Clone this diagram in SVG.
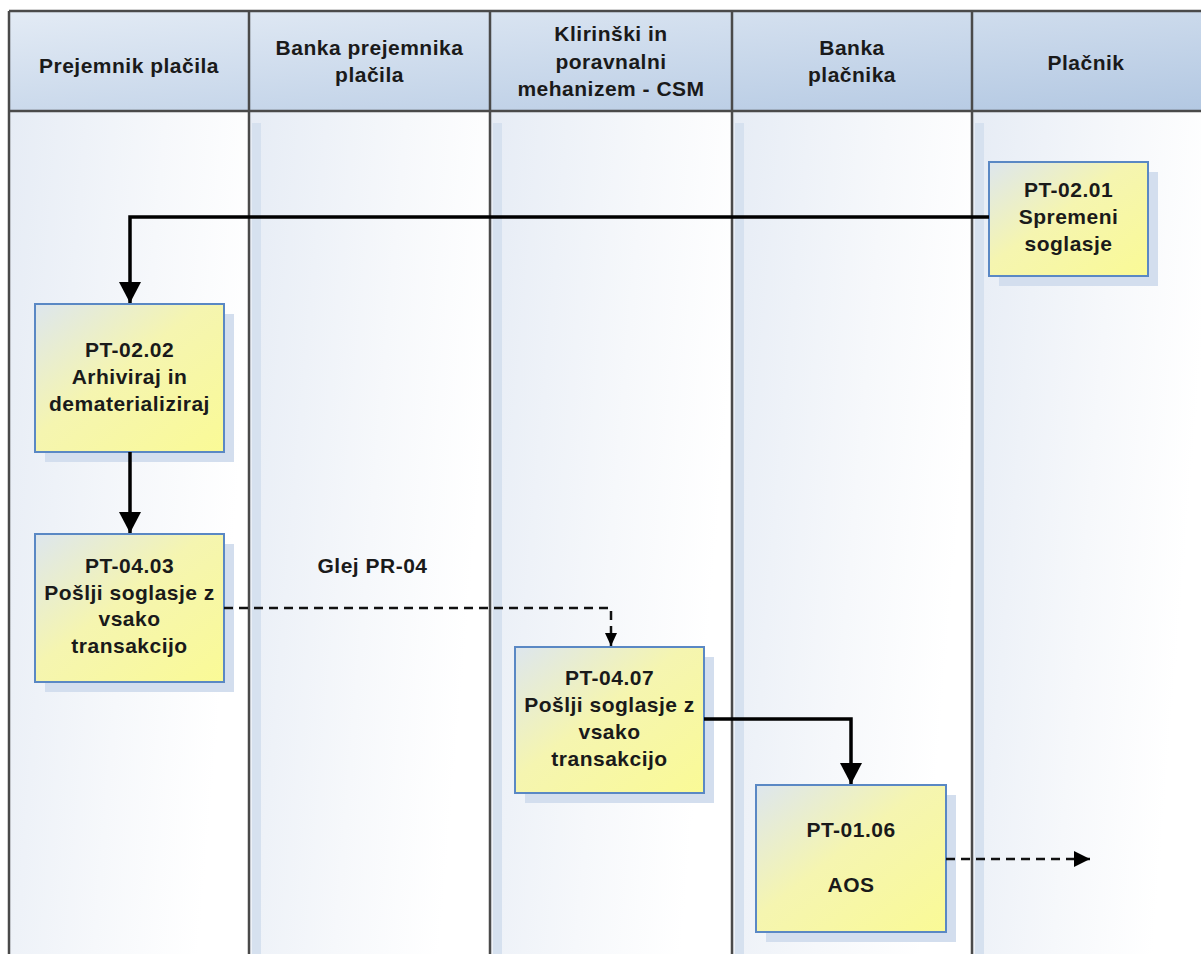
<svg xmlns="http://www.w3.org/2000/svg" width="1201" height="954" viewBox="0 0 1201 954">
<defs>
<linearGradient id="hdr" x1="0" y1="0" x2="1" y2="1">
<stop offset="0" stop-color="#e3ebf5"/>
<stop offset="1" stop-color="#b3c8e2"/>
</linearGradient>
<linearGradient id="lane" x1="0" y1="0" x2="1" y2="0.3">
<stop offset="0" stop-color="#e6ecf5"/>
<stop offset="0.6" stop-color="#f6f8fb"/>
<stop offset="1" stop-color="#ffffff"/>
</linearGradient>
<linearGradient id="box" x1="0" y1="0" x2="1" y2="1">
<stop offset="0" stop-color="#dde6ee"/>
<stop offset="0.45" stop-color="#f5f5b0"/>
<stop offset="1" stop-color="#fafa96"/>
</linearGradient>
<marker id="ah" markerUnits="userSpaceOnUse" markerWidth="24" markerHeight="24" viewBox="0 0 24 24" refX="21" refY="12" orient="auto">
<path d="M0,1 L21,12 L0,23 Z" fill="#000"/>
</marker>
<marker id="ahs" markerUnits="userSpaceOnUse" markerWidth="18" markerHeight="18" viewBox="0 0 18 18" refX="16" refY="9" orient="auto">
<path d="M0,1 L16,9 L0,17 Z" fill="#000"/>
</marker>
<marker id="ahm" markerUnits="userSpaceOnUse" markerWidth="14" markerHeight="14" viewBox="0 0 14 14" refX="13" refY="7" orient="auto">
<path d="M0,1 L13,7 L0,13 Z" fill="#000"/>
</marker>
</defs>
<style>
text{font-family:"Liberation Sans",Arial,sans-serif;font-weight:bold;font-size:21px;fill:#1a1a1a;text-anchor:middle;letter-spacing:0.5px}
.hdr{fill:url(#hdr)}
.lane{fill:url(#lane)}
.strip{fill:#d6e1ef}
.div{stroke:#4a4a4a;stroke-width:2.5;fill:none}
.shadow{fill:#d3deee}
.box{fill:url(#box);stroke:#5a88c4;stroke-width:2}
.solid{stroke:#000;stroke-width:3.5;fill:none}
.dash{stroke:#111;stroke-width:2.5;fill:none;stroke-dasharray:9 6}
</style>
<rect width="1201" height="954" fill="#ffffff"/>
<g id="lanes">
<rect class="lane" x="9" y="111" width="240" height="843"/>
<rect class="lane" x="249" y="111" width="241" height="843"/>
<rect class="lane" x="490" y="111" width="242" height="843"/>
<rect class="lane" x="732" y="111" width="240" height="843"/>
<rect class="lane" x="972" y="111" width="229" height="843"/>
<rect class="strip" x="252" y="123" width="9" height="831"/>
<rect class="strip" x="493" y="123" width="9" height="831"/>
<rect class="strip" x="735" y="123" width="9" height="831"/>
<rect class="strip" x="975" y="123" width="9" height="831"/>
<rect class="hdr" x="9" y="11" width="1192" height="100"/>
<path class="div" d="M9,11 H1201 M9,111 H1201 M9,11 V954 M249,11 V954 M490,11 V954 M732,11 V954 M972,11 V954"/>
<text x="129" y="73">Prejemnik plačila</text>
<text x="369.5" y="55">Banka prejemnika</text>
<text x="369.5" y="82">plačila</text>
<text x="611" y="41">Klirinški in</text>
<text x="611" y="68.5">poravnalni</text>
<text x="611" y="96">mehanizem - CSM</text>
<text x="852" y="55">Banka</text>
<text x="852" y="82">plačnika</text>
<text x="1086" y="70">Plačnik</text>
</g>
<g id="node-pt0201">
<rect class="shadow" x="999" y="172" width="159" height="114"/>
<rect class="box" x="989" y="162" width="159" height="114"/>
<text x="1068.5" y="197">PT-02.01</text>
<text x="1068.5" y="224">Spremeni</text>
<text x="1068.5" y="251">soglasje</text>
</g>
<g id="node-pt0202">
<rect class="shadow" x="45" y="314" width="189" height="148"/>
<rect class="box" x="35" y="304" width="189" height="148"/>
<text x="129.5" y="357">PT-02.02</text>
<text x="129.5" y="384">Arhiviraj in</text>
<text x="129.5" y="411">dematerializiraj</text>
</g>
<g id="node-pt0403">
<rect class="shadow" x="45" y="544" width="189" height="148"/>
<rect class="box" x="35" y="534" width="189" height="148"/>
<text x="129.5" y="573">PT-04.03</text>
<text x="129.5" y="600">Pošlji soglasje z</text>
<text x="129.5" y="626">vsako</text>
<text x="129.5" y="653">transakcijo</text>
</g>
<g id="node-pt0407">
<rect class="shadow" x="525" y="657" width="189" height="146"/>
<rect class="box" x="515" y="647" width="189" height="146"/>
<text x="609.5" y="685">PT-04.07</text>
<text x="609.5" y="712">Pošlji soglasje z</text>
<text x="609.5" y="739">vsako</text>
<text x="609.5" y="766">transakcijo</text>
</g>
<g id="node-pt0106">
<rect class="shadow" x="766" y="795" width="190" height="147"/>
<rect class="box" x="756" y="785" width="190" height="147"/>
<text x="851" y="837">PT-01.06</text>
<text x="851" y="892">AOS</text>
</g>
<g id="connectors">
<path class="solid" d="M989,217 H130 V303" marker-end="url(#ah)"/>
<path class="solid" d="M130,452 V533" marker-end="url(#ah)"/>
<path class="dash" d="M224,608 H611 V646" marker-end="url(#ahm)"/>
<path class="solid" d="M704,719 H851 V784" marker-end="url(#ah)"/>
<path class="dash" d="M946,859 H1090" marker-end="url(#ahs)"/>
<text x="372.5" y="573">Glej PR-04</text>
</g>
</svg>
